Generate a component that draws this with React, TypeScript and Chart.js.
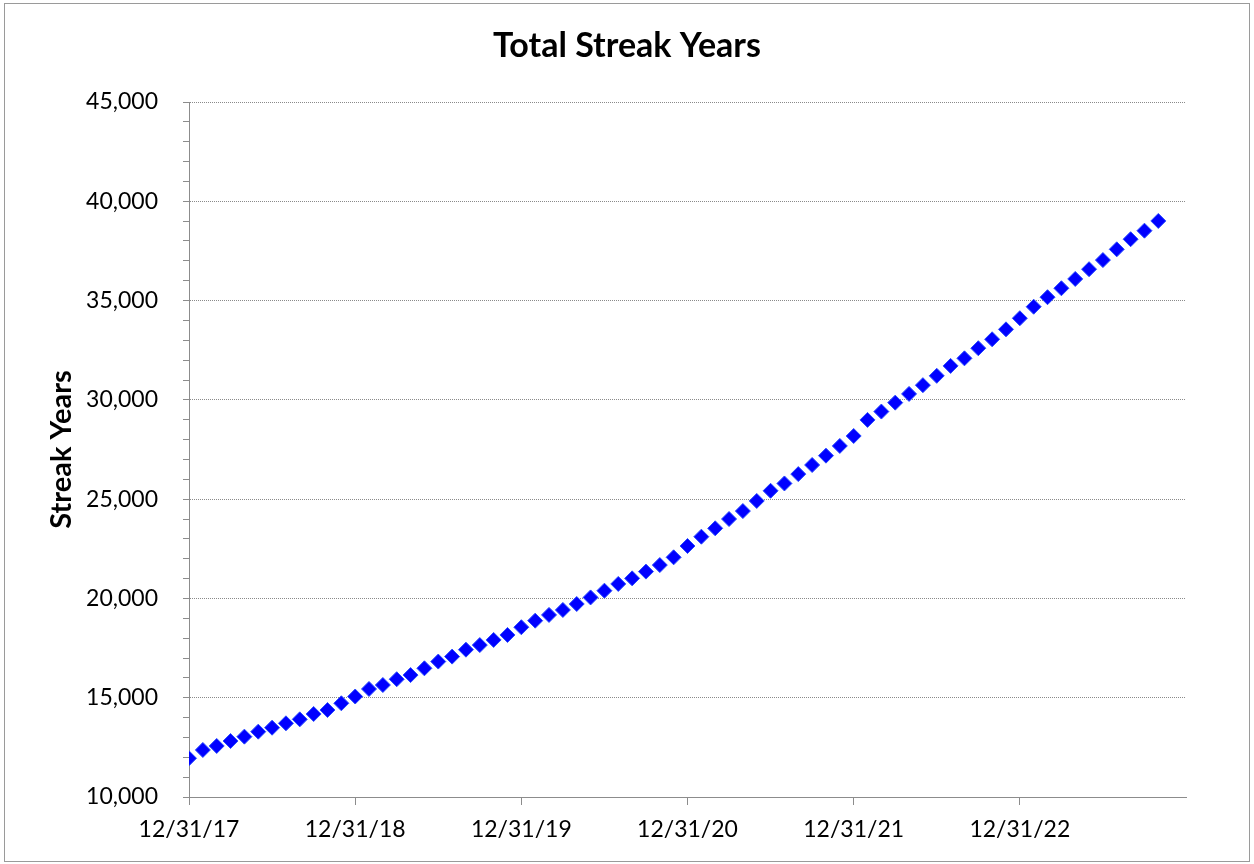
import React, { useEffect, useRef } from "react";
import { Chart, registerables } from "chart.js";

Chart.register(...registerables);

const chartTitle = "Total Streak Years";
const yAxisTitle = "Streak Years";

// Month-end observations, starting 12/31/17 (index = months since 12/31/17)
const streakYears = [
  11950, 12370, 12570, 12820, 13040, 13290, 13490, 13710, 13910, 14180, 14380, 14720,
  15060, 15440, 15640, 15930, 16140, 16480, 16820, 17070, 17420, 17650, 17910, 18160,
  18550, 18880, 19170, 19420, 19720, 20050, 20390, 20730, 21010, 21350, 21680, 22070,
  22640, 23110, 23530, 24000, 24400, 24910, 25420, 25790, 26260, 26720, 27190, 27680,
  28180, 28990, 29410, 29860, 30300, 30740, 31210, 31710, 32090, 32600, 33050, 33550,
  34110, 34690, 35170, 35620, 36090, 36580, 37040, 37580, 38090, 38520, 39010,
];

const xTickLabels = ["12/31/17", "12/31/18", "12/31/19", "12/31/20", "12/31/21", "12/31/22", ""];
const monthsPerTick = 12;

const yMin = 10000;
const yMax = 45000;
const yMajorStep = 5000;
const yMinorStep = 1000;

const FONT = "Lato, 'Open Sans', sans-serif";
const AXIS_GRAY = "#8c8c8c";

const framePlugin = {
  id: "frame",
  afterDraw(chart: any) {
    const ctx = chart.ctx;
    ctx.save();
    ctx.strokeStyle = "#9a9a9a";
    ctx.lineWidth = 1;
    ctx.strokeRect(4.5, 3.5, 1245, 858);
    ctx.restore();
  },
};

export default function App() {
  const canvasRef = useRef<HTMLCanvasElement | null>(null);

  useEffect(() => {
    document.body.style.margin = "0";
    const canvas = canvasRef.current;
    if (!canvas) return;
    const points = streakYears.map((v, i) => ({ x: i, y: v }));
    const xMax = (xTickLabels.length - 1) * monthsPerTick;
    const chart = new Chart(canvas, {
      type: "scatter",
      data: {
        datasets: [
          {
            label: "Streak Years",
            data: points,
            showLine: false,
            pointStyle: "rectRot",
            pointRadius: 7.5,
            pointHoverRadius: 7.5,
            backgroundColor: "#0000ff",
            borderColor: "#2a4cff",
            borderWidth: 1,
          },
        ],
      },
      options: {
        animation: false,
        responsive: false,
        maintainAspectRatio: false,
        layout: { padding: 0 },
        plugins: {
          legend: { display: false },
          tooltip: { enabled: false },
          title: {
            display: true,
            text: chartTitle,
            color: "#000",
            font: { family: FONT, size: 34, weight: "bold" },
            padding: { top: 25.6, bottom: 35.6 },
          },
        },
        scales: {
          x: {
            type: "linear",
            min: 0,
            max: xMax,
            afterFit: (scale: any) => {
              scale.height = 67;
            },
            afterBuildTicks: (scale: any) => {
              scale.ticks = xTickLabels.map((_, i) => ({ value: i * monthsPerTick }));
            },
            ticks: {
              autoSkip: false,
              maxRotation: 0,
              color: "#000",
              font: { family: FONT, size: 23 },
              padding: 11,
              callback: (value: any) => xTickLabels[Math.round(Number(value) / monthsPerTick)] ?? "",
            },
            grid: {
              drawOnChartArea: false,
              drawTicks: true,
              tickLength: 8,
              tickColor: (ctx: any) =>
                ctx.tick && ctx.tick.value === xMax ? "rgba(0,0,0,0)" : AXIS_GRAY,
            },
            border: { display: true, color: AXIS_GRAY, width: 1 },
          },
          y: {
            type: "linear",
            position: "left",
            min: yMin,
            max: yMax,
            afterFit: (scale: any) => {
              scale.width = 189;
            },
            ticks: {
              stepSize: yMinorStep,
              autoSkip: false,
              color: "#000",
              font: { family: FONT, size: 23 },
              padding: 25,
              callback: (value: any) =>
                Number(value) % yMajorStep === 0 ? Number(value).toLocaleString("en-US") : "",
            },
            grid: {
              drawOnChartArea: true,
              drawTicks: true,
              tickLength: 6,
              tickColor: AXIS_GRAY,
              color: (ctx: any) =>
                ctx.tick && ctx.tick.value % yMajorStep === 0 && ctx.tick.value !== yMin ? "#8a8a8a" : "rgba(0,0,0,0)",
              lineWidth: 1,
            },
            border: { display: true, color: AXIS_GRAY, width: 1, dash: [1, 1] },
            title: {
              display: true,
              text: yAxisTitle,
              color: "#000",
              font: { family: FONT, size: 29, weight: "bold" },
              padding: { top: 44.6, bottom: 0 },
            },
          },
          yRight: {
            type: "linear",
            position: "right",
            min: yMin,
            max: yMax,
            afterFit: (scale: any) => {
              scale.width = 68;
            },
            ticks: { display: false },
            grid: { display: false, drawOnChartArea: false },
            border: { display: false },
          },
        },
      },
      plugins: [framePlugin],
    });
    return () => chart.destroy();
  }, []);

  return (
    <div style={{ width: 1254, height: 864, background: "#fff" }}>
      <canvas ref={canvasRef} width={1254} height={864} style={{ display: "block" }} />
    </div>
  );
}
